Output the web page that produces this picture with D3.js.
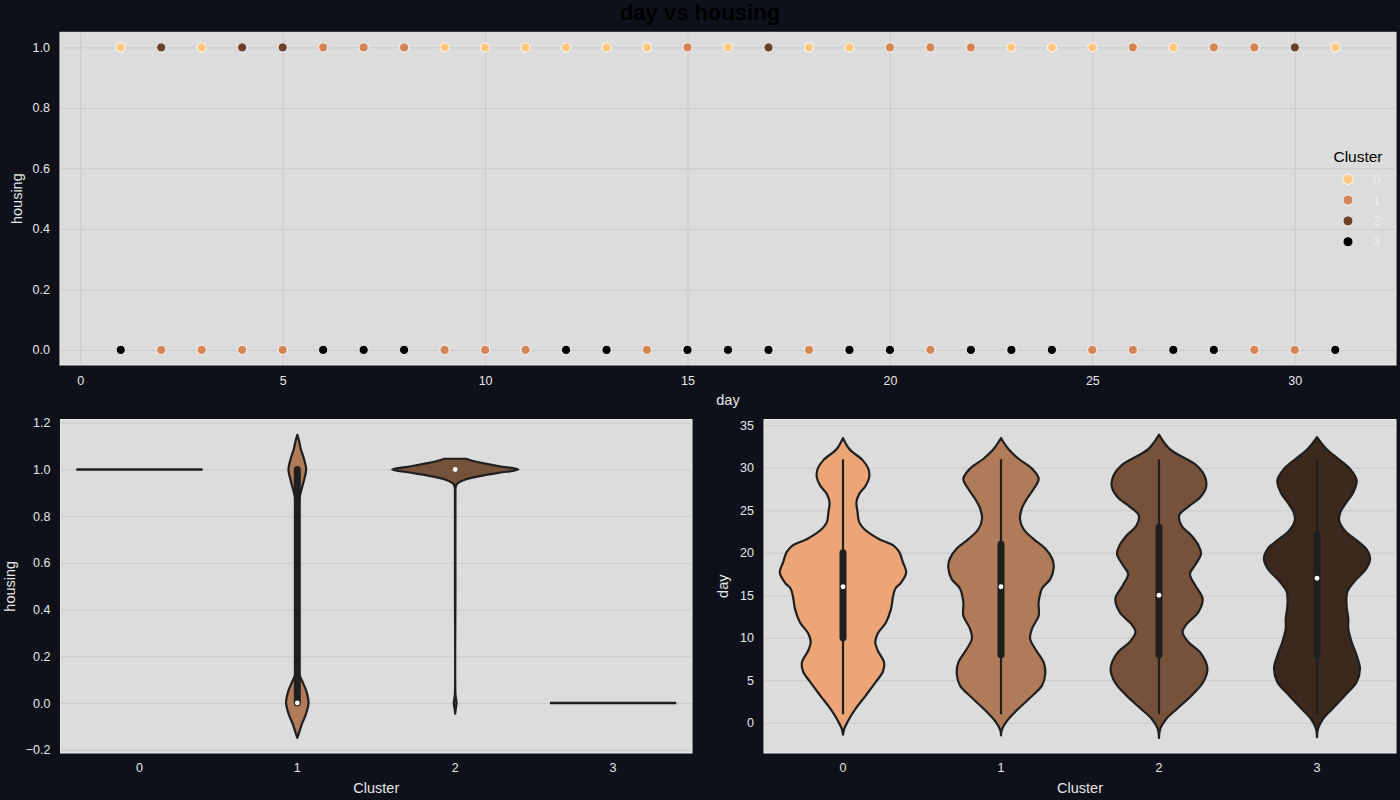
<!DOCTYPE html>
<html><head><meta charset="utf-8">
<script src="https://cdn.jsdelivr.net/npm/d3@7"></script>
<style>body{margin:0;background:#0e111a;} svg{display:block;}</style>
</head><body><svg id="chart" width="1400" height="800"></svg>
<script>
// ---------------- DATA ----------------
const days = [1,2,3,4,5,6,7,8,9,10,11,12,13,14,15,16,17,18,19,20,21,22,23,24,25,26,27,28,29,30,31];
const housingOneCluster  = [0,2,0,2,2,1,1,1,0,0,0,0,0,0,1,0,2,0,0,1,1,1,0,0,0,1,0,1,1,2,0];
const housingZeroCluster = [3,1,1,1,1,3,3,3,1,1,1,3,3,1,3,3,3,1,3,3,1,3,3,3,1,1,3,3,1,1,3];
const clusters = [0,1,2,3];
const clusterLabels = ["0","1","2","3"];
const dayTicks = [0,5,10,15,20,25,30];
const housingTicksTop = [0,0.2,0.4,0.6,0.8,1.0];
const housingTicksViolin = [-0.2,0,0.2,0.4,0.6,0.8,1.0,1.2];
const dayTicksViolin = [0,5,10,15,20,25,30,35];
const scatterColors = ["#FFC77F","#D48555","#6A422A","#000000"];
const violinColors = ["#EBA577","#B07B59","#76523B","#3B291E"];

// housing violins: [housing value, relative half-width]
const housingViolin1 = [[1.148,0],[1.12,0.03],[1.088,0.055],[1.045,0.106],[1.0,0.14],[0.96,0.112],[0.917,0.069],[0.882,0.037],[0.846,0.011],[0.80,0.004],[0.5,0.004],[0.2,0.004],[0.135,0.016],[0.092,0.08],[0.05,0.144],[0.0,0.178],[-0.05,0.133],[-0.092,0.069],[-0.128,0.027],[-0.149,0]];
const housingViolin2 = [[1.046,0.17],[1.035,0.30],[1.025,0.48],[1.014,0.70],[1.0,1.0],[0.986,0.70],[0.975,0.45],[0.965,0.27],[0.955,0.14],[0.945,0.06],[0.935,0.02],[0.92,0.006],[0.9,0.004],[0.5,0.004],[0.04,0.004],[0.02,0.012],[0.0,0.022],[-0.02,0.012],[-0.035,0.004],[-0.046,0]];
const housingSingleClusters = [0,3];
const housingSingleValues = [1,0];
const housingBoxClusters = [1];
const housingBoxLow = [0];
const housingBoxHigh = [1];
const housingMedians = [null,0,1,null];

// day violins: [day, relative half-width]
const dayViolin0 = [[33.5,0],[32.2,0.10],[30.9,0.31],[29.9,0.40],[28.9,0.415],[27.9,0.36],[26.9,0.255],[25.96,0.213],[24.8,0.23],[23.6,0.255],[22.8,0.335],[21.6,0.575],[20.9,0.79],[20.1,0.89],[18.9,0.947],[17.7,1.0],[16.5,0.92],[15.8,0.83],[14.8,0.79],[13.4,0.76],[11.8,0.68],[10.5,0.55],[9.5,0.51],[8.5,0.55],[7.1,0.65],[6.0,0.63],[4.8,0.52],[3.2,0.36],[1.65,0.20],[0.08,0.07],[-0.7,0.02],[-1.4,0]];
const dayViolin1 = [[33.5,0],[32.2,0.117],[31.06,0.277],[29.9,0.49],[28.7,0.596],[27.5,0.516],[26.35,0.41],[25.2,0.33],[24.0,0.30],[22.8,0.356],[21.6,0.516],[20.5,0.70],[19.3,0.81],[18.3,0.835],[16.9,0.78],[15.8,0.65],[14.2,0.596],[12.6,0.596],[11.06,0.49],[9.9,0.46],[8.7,0.54],[7.1,0.675],[5.76,0.70],[4.4,0.65],[2.8,0.44],[1.25,0.22],[0.08,0.08],[-0.9,0.01],[-1.5,0]];
const dayViolin2 = [[33.9,0],[32.2,0.17],[30.27,0.596],[28.9,0.73],[27.7,0.745],[26.5,0.65],[25.4,0.46],[24.4,0.32],[23.2,0.356],[22.0,0.516],[20.9,0.622],[19.9,0.665],[18.7,0.585],[17.5,0.49],[16.2,0.57],[14.6,0.69],[13.0,0.622],[11.6,0.436],[10.67,0.372],[9.5,0.463],[8.3,0.65],[6.35,0.766],[4.8,0.70],[3.2,0.516],[1.65,0.287],[0.47,0.117],[-0.7,0.02],[-1.8,0]];
const dayViolin3 = [[33.6,0],[32.2,0.149],[31.06,0.335],[29.9,0.52],[28.5,0.628],[27.1,0.574],[25.96,0.468],[24.8,0.372],[23.8,0.351],[22.6,0.441],[21.45,0.628],[20.5,0.777],[19.3,0.84],[18.1,0.777],[16.7,0.60],[15.4,0.479],[13.8,0.468],[12.2,0.495],[11.06,0.495],[9.5,0.548],[7.9,0.628],[6.35,0.68],[4.8,0.628],[3.2,0.441],[1.65,0.245],[0.47,0.096],[-0.7,0.016],[-1.7,0]];
const dayViolins = [dayViolin0, dayViolin1, dayViolin2, dayViolin3];
const dayMin = [1,1,1,1];
const dayMax = [31,31,31,31];
const dayQ1 = [10,8,8,8];
const dayQ3 = [20,21,23,22];
const dayMedian = [16,16,15,17];

// ---------------- STYLE ----------------
const FONT = "'Liberation Sans', Arial, sans-serif";
const PANEL_BG = "#dcdcdc";
const GRID = "#cacaca";
const TEXT = "#e6e6e6";
const EDGE = "#1f1f1f";
const TICK_FS = 12.5;

const svg = d3.select("#chart");
svg.append("rect").attr("width",1400).attr("height",800).attr("fill","#0e111a");

svg.append("text").attr("x",700).attr("y",20).attr("text-anchor","middle")
  .attr("font-family",FONT).attr("font-weight","bold").attr("font-size",22)
  .attr("fill","#000").text("day vs housing");

function panel(box){
  const g = svg.append("g");
  g.append("rect").attr("x",box.l).attr("y",box.t).attr("width",box.r-box.l).attr("height",box.b-box.t)
    .attr("fill",PANEL_BG);
  return g;
}
function styleAxis(sel, fs){
  sel.select(".domain").remove();
  sel.selectAll(".tick line").attr("stroke",GRID).attr("stroke-width",1);
  sel.selectAll(".tick text").attr("fill",TEXT).attr("font-family",FONT).attr("font-size",fs);
}
function frame(g, box){
  g.append("rect").attr("x",box.l).attr("y",box.t).attr("width",box.r-box.l).attr("height",box.b-box.t)
    .attr("fill","none").attr("stroke","#e9e9e9").attr("stroke-width",1);
}
function label(x,y,txt,rot){
  const t = svg.append("text").attr("font-family",FONT).attr("font-size",14.5).attr("fill",TEXT)
    .attr("text-anchor","middle").text(txt);
  if(rot) t.attr("transform",`translate(${x},${y}) rotate(-90)`);
  else t.attr("x",x).attr("y",y);
}

// ---------------- TOP SCATTER ----------------
const T = {l:60,r:1396,t:32.3,b:365};
const gT = panel(T);
const xT = d3.scaleLinear().domain([-0.5,32.5]).range([T.l,T.r]);
const yT = d3.scaleLinear().domain([-0.05,1.05]).range([T.b,T.t]);
gT.append("g").attr("transform",`translate(0,${T.b})`)
  .call(d3.axisBottom(xT).tickValues(dayTicks).tickSize(-(T.b-T.t)).tickPadding(11).tickFormat(d3.format("d")))
  .call(s=>styleAxis(s,TICK_FS));
gT.append("g").attr("transform",`translate(${T.l},0)`)
  .call(d3.axisLeft(yT).tickValues(housingTicksTop).tickSize(-(T.r-T.l)).tickPadding(10).tickFormat(d3.format(".1f")))
  .call(s=>styleAxis(s,TICK_FS));
frame(gT,T);
const pts = [];
days.forEach((d,i)=>{ pts.push({day:d,h:1,c:housingOneCluster[i]}); pts.push({day:d,h:0,c:housingZeroCluster[i]}); });
gT.selectAll("circle.pt").data(pts).join("circle").attr("class","pt")
  .attr("cx",d=>xT(d.day)).attr("cy",d=>yT(d.h)).attr("r",4.6)
  .attr("fill",d=>scatterColors[d.c]).attr("stroke","#ffffff").attr("stroke-width",0.9);
label((T.l+T.r)/2, 405, "day");
label(22, (T.t+T.b)/2, "housing", true);

// legend
const lg = svg.append("g");
lg.append("text").attr("x",1358).attr("y",162).attr("text-anchor","middle")
  .attr("font-family",FONT).attr("font-size",15.5).attr("fill","#000").text("Cluster");
const legY = d3.scalePoint().domain(clusters).range([179.3,241.7]);
lg.selectAll("circle").data(clusters).join("circle")
  .attr("cx",1348).attr("cy",d=>legY(d)).attr("r",5).attr("fill",d=>scatterColors[d])
  .attr("stroke","#ffffff").attr("stroke-width",0.8);
lg.selectAll("text.lab").data(clusters).join("text").attr("class","lab")
  .attr("x",1373).attr("y",d=>legY(d)+4.5).attr("font-family",FONT).attr("font-size",13)
  .attr("fill","#ececec").text(d=>clusterLabels[d]);

// ---------------- VIOLIN helpers ----------------
function violinArea(cx, halfMax, yScale){
  return d3.area().curve(d3.curveCatmullRom.alpha(0.5))
    .y(d=>yScale(d[0])).x0(d=>cx - d[1]*halfMax).x1(d=>cx + d[1]*halfMax);
}

// ---------------- BOTTOM LEFT ----------------
const L = {l:60.5,r:692,t:419.5,b:753};
const gL = panel(L);
const xL = d3.scaleBand().domain(clusters).range([L.l,L.r]);
const yL = d3.scaleLinear().domain([-0.214,1.214]).range([L.b,L.t]);
gL.append("g").attr("transform",`translate(${L.l},0)`)
  .call(d3.axisLeft(yL).tickValues(housingTicksViolin).tickSize(-(L.r-L.l)).tickPadding(10).tickFormat(d3.format(".1f")))
  .call(s=>styleAxis(s,TICK_FS));
gL.append("g").attr("transform",`translate(0,${L.b})`)
  .call(d3.axisBottom(xL).tickSize(0).tickPadding(10.5).tickFormat(d=>clusterLabels[d]))
  .call(s=>styleAxis(s,TICK_FS));
frame(gL,L);
const cxL = c => xL(c) + xL.bandwidth()/2;
const halfL = xL.bandwidth()*0.4;
[[1,housingViolin1],[2,housingViolin2]].forEach(([c,prof])=>{
  gL.append("path").attr("d",violinArea(cxL(c),halfL,yL)(prof))
    .attr("fill",violinColors[c]).attr("stroke",EDGE).attr("stroke-width",2.2).attr("stroke-linejoin","round");
});
housingSingleClusters.forEach((c,i)=>{
  gL.append("line").attr("x1",cxL(c)-halfL).attr("x2",cxL(c)+halfL)
    .attr("y1",yL(housingSingleValues[i])).attr("y2",yL(housingSingleValues[i]))
    .attr("stroke",EDGE).attr("stroke-width",2.4);
});
housingBoxClusters.forEach((c,i)=>{
  gL.append("line").attr("x1",cxL(c)).attr("x2",cxL(c)).attr("y1",yL(housingBoxLow[i])).attr("y2",yL(housingBoxHigh[i]))
    .attr("stroke",EDGE).attr("stroke-width",7).attr("stroke-linecap","round");
});
clusters.forEach(c=>{
  if(housingMedians[c]===null) return;
  gL.append("circle").attr("cx",cxL(c)).attr("cy",yL(housingMedians[c])).attr("r",2.4).attr("fill","#fff");
});
label((L.l+L.r)/2, 793, "Cluster");
label(15, (L.t+L.b)/2, "housing", true);

// ---------------- BOTTOM RIGHT ----------------
const R = {l:764,r:1396,t:419.5,b:753};
const gR = panel(R);
const xR = d3.scaleBand().domain(clusters).range([R.l,R.r]);
const yR = d3.scaleLinear().domain([-3.56,35.68]).range([R.b,R.t]);
gR.append("g").attr("transform",`translate(${R.l},0)`)
  .call(d3.axisLeft(yR).tickValues(dayTicksViolin).tickSize(-(R.r-R.l)).tickPadding(10).tickFormat(d3.format("d")))
  .call(s=>styleAxis(s,TICK_FS));
gR.append("g").attr("transform",`translate(0,${R.b})`)
  .call(d3.axisBottom(xR).tickSize(0).tickPadding(10.5).tickFormat(d=>clusterLabels[d]))
  .call(s=>styleAxis(s,TICK_FS));
frame(gR,R);
const cxR = c => xR(c) + xR.bandwidth()/2;
const halfR = xR.bandwidth()*0.4;
clusters.forEach(c=>{
  gR.append("path").attr("d",violinArea(cxR(c),halfR,yR)(dayViolins[c]))
    .attr("fill",violinColors[c]).attr("stroke",EDGE).attr("stroke-width",2.2).attr("stroke-linejoin","round");
  gR.append("line").attr("x1",cxR(c)).attr("x2",cxR(c)).attr("y1",yR(dayMin[c])).attr("y2",yR(dayMax[c]))
    .attr("stroke",EDGE).attr("stroke-width",2.2);
  gR.append("line").attr("x1",cxR(c)).attr("x2",cxR(c)).attr("y1",yR(dayQ1[c])).attr("y2",yR(dayQ3[c]))
    .attr("stroke",EDGE).attr("stroke-width",7).attr("stroke-linecap","round");
  gR.append("circle").attr("cx",cxR(c)).attr("cy",yR(dayMedian[c])).attr("r",2.4).attr("fill","#fff");
});
label((R.l+R.r)/2, 793, "Cluster");
label(728, (R.t+R.b)/2, "day", true);
</script></body></html>
